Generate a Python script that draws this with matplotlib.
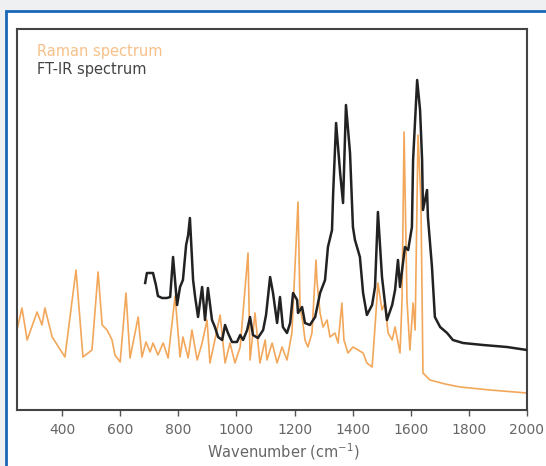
import matplotlib
matplotlib.use("Agg")
import matplotlib.pyplot as plt
from matplotlib.patches import Rectangle

# Raman spectrum (orange) - wavenumber vs. relative intensity (arb. units)
raman_wn = [245, 262, 280, 314, 331, 341, 366, 410, 448, 472, 503, 524, 538, 555,
            572, 582, 600, 620, 634, 662, 675, 689, 703, 713, 730, 748, 765, 789,
            806, 816, 834, 847, 865, 882, 899, 909, 926, 944, 961, 978, 995, 1013,
            1040, 1047, 1064, 1081, 1099, 1105, 1123, 1140, 1157, 1174, 1191, 1212,
            1219, 1229, 1236, 1246, 1260, 1274, 1277, 1288, 1298, 1312, 1322, 1339,
            1350, 1363, 1370, 1384, 1401, 1419, 1436, 1449, 1467, 1477, 1487, 1501,
            1511, 1522, 1536, 1546, 1563, 1570, 1577, 1587, 1597, 1608, 1615, 1625,
            1635, 1642, 1666, 1718, 1770, 1873, 2000]
raman_int = [80, 102, 70, 98, 85, 102, 73, 53, 140, 53, 60, 138, 85, 80,
             70, 55, 48, 117, 52, 93, 53, 68, 58, 67, 55, 67, 52, 114,
             53, 73, 52, 80, 50, 67, 90, 47, 70, 95, 47, 67, 47, 63,
             157, 50, 97, 47, 70, 50, 67, 47, 63, 50, 77, 208,
             103, 87, 70, 63, 77, 150, 130, 97, 83, 90, 73, 77,
             67, 107, 70, 57, 63, 60, 57, 47, 43, 83, 127, 100,
             107, 77, 70, 83, 57, 110, 278, 110, 60, 107, 80, 275,
             210, 37, 30, 26, 23, 20, 17]

# FT-IR spectrum (black)
ftir_wn = [686, 692, 713, 723, 730, 744, 761, 772, 782, 796, 806, 816, 827, 834,
           840, 851, 858, 868, 882, 892, 902, 916, 926, 937, 951, 961, 971, 985,
           1002, 1013, 1023, 1037, 1047, 1057, 1074, 1092, 1102, 1116, 1126, 1140,
           1150, 1160, 1174, 1185, 1195, 1209, 1212, 1226, 1236, 1253, 1271, 1288,
           1305, 1315, 1329, 1333, 1343, 1357, 1367, 1377, 1391, 1401, 1408, 1425,
           1436, 1449, 1467, 1477, 1487, 1501, 1518, 1536, 1546, 1556, 1563, 1580,
           1591, 1604, 1608, 1622, 1632, 1639, 1642, 1656, 1659, 1673, 1683, 1701,
           1725, 1745, 1780, 1849, 1931, 2000]
ftir_int = [127, 137, 137, 125, 114, 112, 112, 113, 153, 105, 123, 130, 165, 175,
            192, 130, 113, 93, 123, 90, 122, 90, 83, 73, 70, 85, 77, 68,
            68, 75, 70, 80, 93, 75, 72, 80, 95, 133, 117, 87,
            113, 83, 77, 87, 117, 110, 97, 103, 87, 85, 93, 117,
            130, 163, 180, 217, 287, 237, 207, 305, 257, 183, 170, 153,
            117, 95, 105, 123, 198, 133, 90, 105, 120, 150, 123, 163,
            160, 183, 250, 330, 300, 250, 200, 220, 193, 143, 93, 83,
            77, 70, 67, 65, 63, 60]

xticks = [400, 600, 800, 1000, 1200, 1400, 1600, 1800, 2000]

fig = plt.figure(figsize=(5.46, 4.66), dpi=100)
fig.patch.set_facecolor("#eef0f1")

# white panel with blue frame behind the chart
frame = Rectangle((6 / 546, -0.05), 1.0, 1 - 11 / 466 + 0.05,
                  transform=fig.transFigure, facecolor="white",
                  edgecolor="#1a67b8", linewidth=2.0, zorder=-10)
fig.patches.append(frame)

ax = fig.add_axes([17 / 546, 1 - 410 / 466, 510 / 546, 381 / 466])
ax.set_zorder(5)
ax.plot(raman_wn, raman_int, color="#f2a75a", lw=1.2, zorder=2)
ax.plot(ftir_wn, ftir_int, color="#222222", lw=1.8, zorder=3)

ax.set_xlim(245, 2000)
ax.set_ylim(0, 381)
ax.set_yticks([])
ax.set_xticks(xticks)
ax.tick_params(axis="x", direction="out", length=4, width=1, color="#555555",
               labelsize=10, labelcolor="#666666", pad=5)
for s in ax.spines.values():
    s.set_color("#444444")
    s.set_linewidth(1.5)

ax.set_xlabel("Wavenumber (cm$^{-1}$)", fontsize=10.5, color="#666666")
ax.xaxis.set_label_coords(0.523, -0.083)

ax.text(0.04, 0.94, "Raman spectrum", transform=ax.transAxes, fontsize=10.5,
        color="#f7c088", va="center")
ax.text(0.04, 0.893, "FT-IR spectrum", transform=ax.transAxes, fontsize=10.5,
        color="#444444", va="center")

fig.savefig("out.png", dpi=100, facecolor=fig.get_facecolor())
